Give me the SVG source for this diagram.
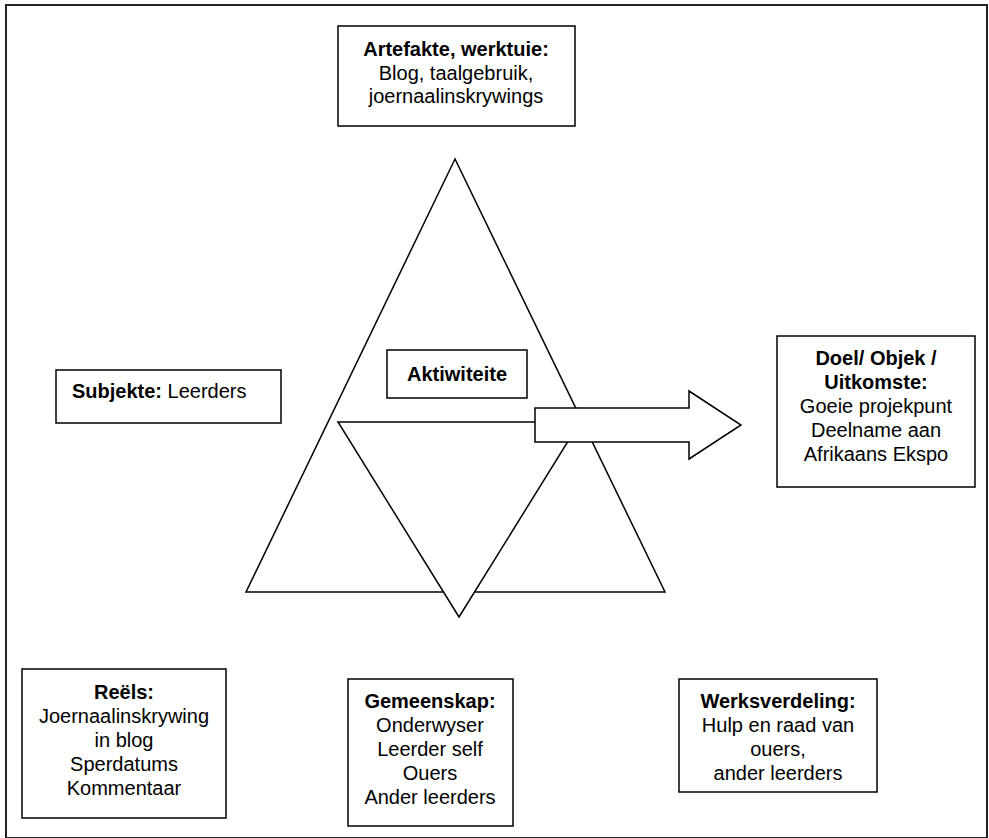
<svg xmlns="http://www.w3.org/2000/svg" width="989" height="838" viewBox="0 0 989 838">
<style>
.box{fill:#fff;stroke:#000;stroke-width:1.5}
.shape{fill:#fff;stroke:#000;stroke-width:1.5;stroke-linejoin:miter}
text{font-family:"Liberation Sans",Arial,sans-serif;font-size:20px;fill:#000;text-anchor:middle}
.b{font-weight:bold}
</style>
<rect x="0" y="0" width="989" height="838" fill="#fff"/>
<rect x="6" y="5" width="981" height="833" fill="none" stroke="#222" stroke-width="2"/>
<g id="triangles">
<polygon class="shape" points="455,159 246,592 665,592"/>
<polygon class="shape" points="338,422 580,422 459,617"/>
</g>
<g id="artefakte">
<rect class="box" x="338" y="26" width="237" height="100"/>
<text x="456" y="56" class="b">Artefakte, werktuie:</text>
<text x="456" y="80">Blog, taalgebruik,</text>
<text x="456" y="103">joernaalinskrywings</text>
</g>
<g id="aktiwiteite">
<rect class="box" x="387" y="350" width="140" height="48"/>
<text x="457" y="381" class="b">Aktiwiteite</text>
</g>
<g id="subjekte">
<rect class="box" x="56" y="370" width="225" height="53"/>
<text x="72" y="398" style="text-anchor:start"><tspan class="b">Subjekte:</tspan> Leerders</text>
</g>
<g id="doel">
<rect class="box" x="777" y="336" width="198" height="151"/>
<text x="876" y="365" class="b">Doel/ Objek /</text>
<text x="876" y="389" class="b">Uitkomste:</text>
<text x="876" y="413">Goeie projekpunt</text>
<text x="876" y="437">Deelname aan</text>
<text x="876" y="461">Afrikaans Ekspo</text>
</g>
<g id="reels">
<rect class="box" x="22" y="669" width="204" height="149"/>
<text x="124" y="699" class="b">Reëls:</text>
<text x="124" y="723">Joernaalinskrywing</text>
<text x="124" y="747">in blog</text>
<text x="124" y="771">Sperdatums</text>
<text x="124" y="795">Kommentaar</text>
</g>
<g id="gemeenskap">
<rect class="box" x="348" y="679" width="165" height="147"/>
<text x="430" y="708" class="b">Gemeenskap:</text>
<text x="430" y="732">Onderwyser</text>
<text x="430" y="756">Leerder self</text>
<text x="430" y="780">Ouers</text>
<text x="430" y="804">Ander leerders</text>
</g>
<g id="werksverdeling">
<rect class="box" x="679" y="679" width="198" height="113"/>
<text x="778" y="708" class="b">Werksverdeling:</text>
<text x="778" y="732">Hulp en raad van</text>
<text x="778" y="756">ouers,</text>
<text x="778" y="780">ander leerders</text>
</g>
<g id="connectors">
<polygon class="box" points="535,408 689,408 689,391 741,425 689,459 689,442 535,442"/>
</g>
</svg>
